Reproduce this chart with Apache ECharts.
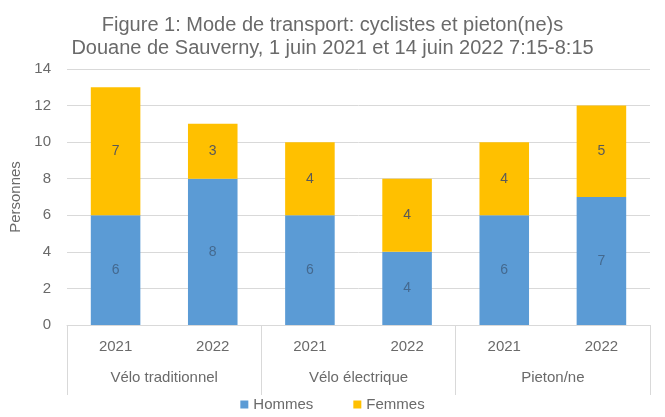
<!DOCTYPE html>
<html><head><meta charset="utf-8">
<script src="https://cdn.jsdelivr.net/npm/echarts@6/dist/echarts.min.js"></script>
<style>html,body{margin:0;padding:0;background:#fff}#c{width:665px;height:417px}</style>
</head><body><div id="c"></div>
<script>
const years = ['2021','2022','2021','2022','2021','2022'];
const groups = ['Vélo traditionnel','Vélo électrique','Pieton/ne'];
const hommes = [6, 8, 6, 4, 6, 7];
const femmes = [7, 3, 4, 4, 4, 5];
const yTicks = {min: 0, max: 14, interval: 2};

const chart = echarts.init(document.getElementById('c'));
const font = 'Liberation Sans, Arial, sans-serif';
chart.setOption({
  animation: false,
  textStyle: {fontFamily: font},
  title: {
    text: 'Figure 1: Mode de transport: cyclistes et pieton(ne)s\nDouane de Sauverny, 1 juin 2021 et 14 juin 2022 7:15-8:15',
    left: 'center', top: 9,
    textStyle: {fontFamily: font, fontSize: 20, fontWeight: 'normal', color: '#6a6a6a', lineHeight: 23}
  },
  legend: {
    bottom: 0, left: 'center', itemWidth: 8, itemHeight: 8, itemGap: 40,
    icon: 'rect',
    textStyle: {fontFamily: font, fontSize: 15, color: '#6a6a6a'},
    data: ['Hommes','Femmes']
  },
  grid: {left: 67, right: 15, top: 69, bottom: 92},
  xAxis: [{
    type: 'category', data: years,
    axisLine: {lineStyle: {color: '#d9d9d9'}},
    axisTick: {show: false},
    axisLabel: {color: '#6a6a6a', fontSize: 15, margin: 14}
  }, {
    type: 'category', data: groups, position: 'bottom',
    axisLine: {show: false},
    axisTick: {show: true, length: 70, lineStyle: {color: '#d9d9d9'}},
    axisLabel: {color: '#6a6a6a', fontSize: 15, margin: 45}
  }],
  yAxis: {
    type: 'value', min: yTicks.min, max: yTicks.max, interval: yTicks.interval,
    name: 'Personnes', nameLocation: 'middle', nameGap: 40, nameRotate: 90,
    nameTextStyle: {color: '#6a6a6a', fontSize: 15},
    axisLine: {show: false}, axisTick: {show: false},
    axisLabel: {color: '#6a6a6a', fontSize: 15, margin: 16},
    splitLine: {lineStyle: {color: '#d9d9d9'}}
  },
  series: [{
    name: 'Hommes', type: 'bar', stack: 't', data: hommes, barWidth: '51%',
    itemStyle: {color: '#5b9bd5'},
    label: {show: true, position: 'inside', color: '#44698f', fontSize: 14}
  }, {
    name: 'Femmes', type: 'bar', stack: 't', data: femmes,
    itemStyle: {color: '#ffc000'},
    label: {show: true, position: 'inside', color: '#595959', fontSize: 14}
  }]
});
</script></body></html>
